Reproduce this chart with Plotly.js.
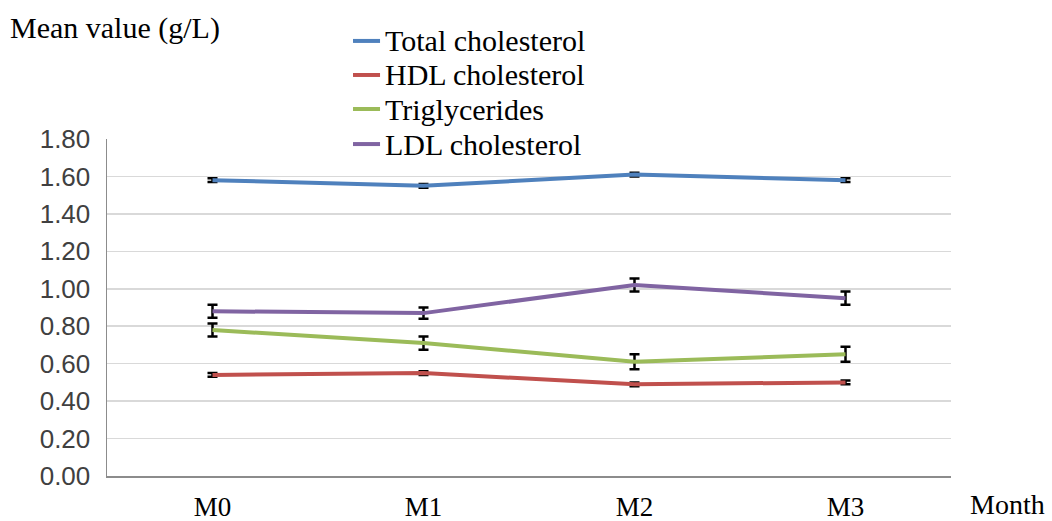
<!DOCTYPE html>
<html><head><meta charset="utf-8">
<script src="https://cdn.plot.ly/plotly-3.0.1.min.js"></script>
<style>html,body{margin:0;padding:0;background:#fff}#chart{width:1052px;height:521px}</style>
</head><body><div id="chart"></div>
<script>
const months = ["M0", "M1", "M2", "M3"];
const seriesNames = ["Total cholesterol", "HDL cholesterol", "Triglycerides", "LDL cholesterol"];
const totalChol = [1.58, 1.55, 1.61, 1.58];
const totalErr = [0.01, 0.01, 0.01, 0.01];
const hdlChol = [0.54, 0.55, 0.49, 0.50];
const hdlErr = [0.01, 0.01, 0.01, 0.01];
const triglycerides = [0.78, 0.71, 0.61, 0.65];
const trigErr = [0.035, 0.035, 0.04, 0.04];
const ldlChol = [0.88, 0.87, 1.02, 0.95];
const ldlErr = [0.035, 0.03, 0.035, 0.035];
const yTicks = [0, 0.2, 0.4, 0.6, 0.8, 1.0, 1.2, 1.4, 1.6, 1.8];

const colors = ["#4F81BD", "#C0504D", "#9BBB59", "#8064A2"];
const vals = [totalChol, hdlChol, triglycerides, ldlChol];
const errs = [totalErr, hdlErr, trigErr, ldlErr];

const traces = seriesNames.map((n, i) => ({
  type: "scatter", mode: "lines", name: n, x: months, y: vals[i], showlegend: false,
  line: {color: colors[i], width: 4},
  error_y: {type: "data", array: errs[i], visible: true, color: "#000", thickness: 2.5, width: 5}
}));

// manual legend (Excel-like compact spacing)
const legY = [1.291, 1.190, 1.089, 0.985];
const legShapes = seriesNames.map((n, i) => ({
  type: "line", xref: "paper", yref: "paper", x0: 0.2915, x1: 0.3235, y0: legY[i], y1: legY[i],
  line: {color: colors[i], width: 4}, layer: "above"
}));
const legAnn = seriesNames.map((n, i) => ({
  text: n, xref: "paper", yref: "paper", x: 0.327, y: legY[i], xanchor: "left", yanchor: "middle",
  showarrow: false, font: {family: "Liberation Serif", size: 30, color: "#000"}
}));

const layout = {
  width: 1052, height: 521,
  margin: {l: 107, r: 101, t: 139, b: 45},
  paper_bgcolor: "#fff", plot_bgcolor: "#fff",
  showlegend: false,
  xaxis: {type: "category", range: [-0.5, 3.5], showgrid: false, zeroline: false,
    showline: true, linecolor: "#8c8c8c", linewidth: 2, ticks: "",
    tickfont: {family: "Liberation Serif", size: 27, color: "#000"}, ticklabelstandoff: 6, fixedrange: true},
  yaxis: {range: [0, 1.8], tickvals: yTicks, ticktext: yTicks.map(v => v.toFixed(2)),
    showgrid: true, gridcolor: "#d9d9d9", gridwidth: 1.5, zeroline: false,
    showline: true, linecolor: "#8c8c8c", linewidth: 1.5, ticks: "",
    tickfont: {family: "Liberation Sans", size: 26, color: "#404040"}, ticklabelstandoff: 10, fixedrange: true},
  shapes: legShapes,
  annotations: [
    {text: "Mean value (g/L)", xref: "paper", yref: "paper", x: -0.117, y: 1.33, xanchor: "left", yanchor: "middle",
     showarrow: false, font: {family: "Liberation Serif", size: 30, color: "#000"}},
    {text: "Month", xref: "paper", yref: "paper", x: 1.02, y: -0.085, xanchor: "left", yanchor: "middle",
     showarrow: false, font: {family: "Liberation Serif", size: 28, color: "#000"}}
  ].concat(legAnn)
};
Plotly.newPlot("chart", traces, layout, {displayModeBar: false, staticPlot: true});
</script></body></html>
